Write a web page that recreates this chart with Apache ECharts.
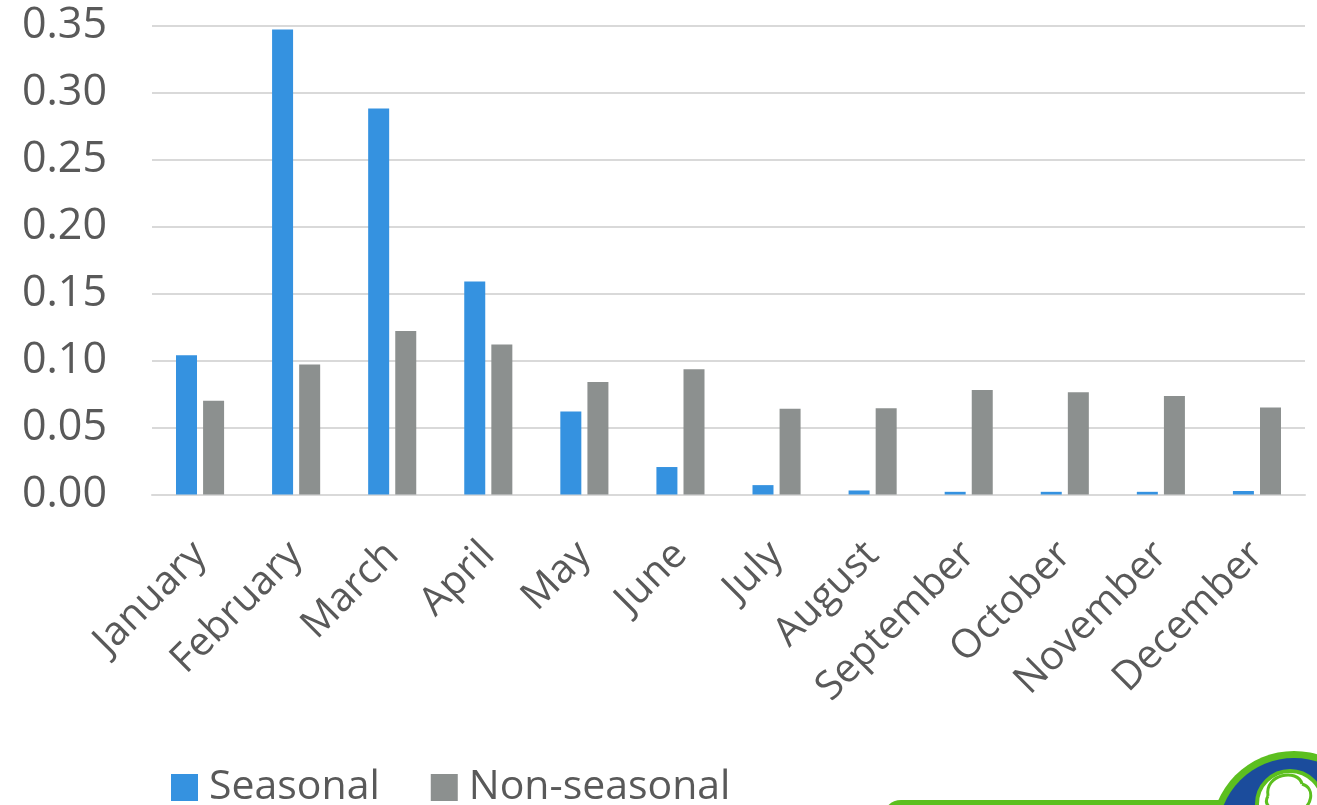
<!DOCTYPE html>
<html>
<head>
<meta charset="utf-8">
<script src="https://cdn.jsdelivr.net/npm/echarts@6/dist/echarts.min.js"></script>
<style>
  html, body { margin: 0; padding: 0; background: #ffffff; }
  #chart { width: 1317px; height: 805px; }
</style>
</head>
<body>
<div id="chart"></div>
<script>
// Monthly shares, seasonal vs non-seasonal
const months = ['January', 'February', 'March', 'April', 'May', 'June',
  'July', 'August', 'September', 'October', 'November', 'December'];
const seasonal = [0.104, 0.347, 0.288, 0.159, 0.062, 0.0205, 0.007, 0.003, 0.002, 0.002, 0.002, 0.0026];
const nonSeasonal = [0.070, 0.097, 0.122, 0.112, 0.084, 0.0935, 0.064, 0.0643, 0.078, 0.0763, 0.0735, 0.065];
const yTicks = [0, 0.05, 0.10, 0.15, 0.20, 0.25, 0.30, 0.35];

const textColor = '#595959';
const fontFamily = '"Open Sans", "Noto Sans", sans-serif';
const badgeGreen = '#5cbf1f';

const chart = echarts.init(document.getElementById('chart'), null, { renderer: 'canvas' });

chart.setOption({
  animation: false,
  backgroundColor: '#ffffff',
  textStyle: { fontFamily: fontFamily, color: textColor },
  grid: { left: 152, right: 12, top: 25.5, bottom: 310.5, containLabel: false },
  legend: {
    left: 166,
    top: 762,
    itemWidth: 27,
    itemHeight: 27,
    itemGap: 51,
    icon: 'rect',
    textStyle: { fontSize: 41, color: textColor, fontFamily: fontFamily, padding: [0, 0, 0, 6] },
    data: ['Seasonal', 'Non-seasonal']
  },
  xAxis: {
    type: 'category',
    data: months,
    axisLine: { lineStyle: { color: '#d9d9d9', width: 2 } },
    axisTick: { show: false },
    axisLabel: {
      rotate: 45,
      interval: 0,
      margin: 54,
      fontSize: 40,
      color: textColor,
      fontFamily: fontFamily
    }
  },
  yAxis: {
    type: 'value',
    min: yTicks[0],
    max: yTicks[yTicks.length - 1],
    interval: 0.05,
    axisLine: { show: false },
    axisTick: { show: false },
    splitLine: { lineStyle: { color: '#d9d9d9', width: 2 } },
    axisLabel: {
      margin: 45,
      fontSize: 43,
      color: textColor,
      fontFamily: fontFamily,
      formatter: v => v.toFixed(2)
    }
  },
  series: [
    {
      name: 'Seasonal',
      type: 'bar',
      data: seasonal,
      barWidth: 21,
      barGap: '29%',
      itemStyle: { color: '#3592e0' }
    },
    {
      name: 'Non-seasonal',
      type: 'bar',
      data: nonSeasonal,
      barWidth: 21,
      itemStyle: { color: '#8c908f' }
    }
  ],
  graphic: [
    // corner badge: green band and round emblem
    {
      type: 'rect',
      shape: { x: 883, y: 800, width: 400, height: 40, r: 18 },
      style: { fill: badgeGreen },
      z: 10
    },
    {
      type: 'circle',
      shape: { cx: 1294, cy: 834, r: 83 },
      style: { fill: badgeGreen },
      z: 11
    },
    {
      type: 'circle',
      shape: { cx: 1294, cy: 834, r: 76 },
      style: { fill: '#1b4c9c' },
      z: 12
    },
    {
      type: 'circle',
      shape: { cx: 1290, cy: 804, r: 33 },
      style: { fill: '#ffffff', stroke: badgeGreen, lineWidth: 4 },
      z: 13
    },
    {
      type: 'bezierCurve',
      shape: { x1: 1268, y1: 796, x2: 1302, y2: 784, cpx1: 1264, cpy1: 774, cpx2: 1298, cpy2: 768 },
      style: { fill: 'none', stroke: badgeGreen, lineWidth: 3 },
      z: 14
    },
    {
      type: 'bezierCurve',
      shape: { x1: 1302, y1: 784, x2: 1298, y2: 812, cpx1: 1316, cpy1: 788, cpx2: 1312, cpy2: 808 },
      style: { fill: 'none', stroke: badgeGreen, lineWidth: 3 },
      z: 14
    },
    {
      type: 'bezierCurve',
      shape: { x1: 1268, y1: 796, x2: 1280, y2: 812, cpx1: 1262, cpy1: 806, cpx2: 1274, cpy2: 810 },
      style: { fill: 'none', stroke: badgeGreen, lineWidth: 3 },
      z: 14
    }
  ]
});
</script>
</body>
</html>
